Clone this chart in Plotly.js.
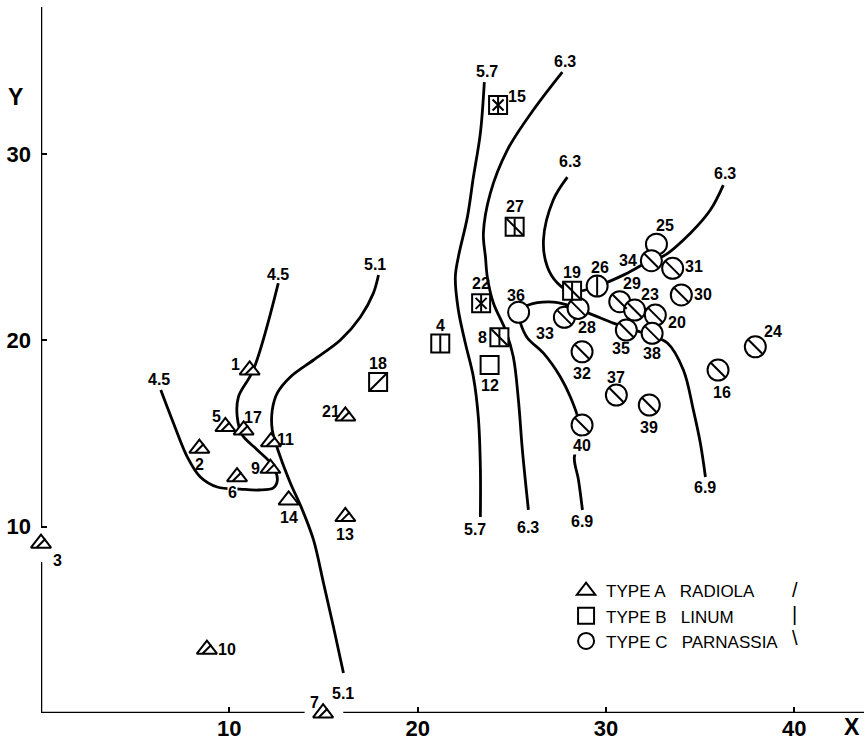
<!DOCTYPE html>
<html>
<head>
<meta charset="utf-8">
<script src="https://cdn.plot.ly/plotly-3.0.1.min.js"></script>
<style>html,body{margin:0;padding:0;background:#fff;}</style>
</head>
<body>
<div id="chart" style="width:864px;height:752px;"></div>
<script>
// ---------------- DATA ----------------
// Type A  (Radiola) – triangles
const typeA_ids = ['1','2','3','5','6','7','9','10','11','13','14','17','21'];
const typeA_x = [11.08, 8.41, 0.0, 9.79, 10.41, 14.98, 12.18, 8.81, 12.21, 16.16, 13.15, 10.76, 16.16];
const typeA_y = [18.41, 14.21, 9.11, 15.37, 12.68, 0.0, 13.13, 3.42, 14.56, 10.54, 11.43, 15.19, 15.94];
const typeA_hatch = ['/','/','/','/','/','/','/','/','/','/','','/','/'];

// Type B  (Linum) – squares
const typeB_ids = ['4','8','12','15','18','19','22','27'];
const typeB_x = [21.2, 24.34, 23.82, 24.27, 17.9, 28.2, 23.37, 25.15];
const typeB_y = [19.83, 20.17, 18.68, 32.64, 17.77, 22.67, 21.99, 26.1];
const typeB_hatch = ['|', '|\\', '', 'x|', '/', '|\\', 'x|', '|\\'];

// Type C  (Parnassia) – circles
const typeC_ids = ['16','24','25','26','29','20','23','30','31','34','33','28','32','35','38','36','37','39','40'];
const typeC_x = [35.95, 37.93, 32.68, 29.53, 30.73, 32.62, 31.52, 34.0, 33.54, 32.41, 27.79, 28.52, 28.73, 31.08, 32.45, 25.36, 30.55, 32.3, 28.73];
const typeC_y = [18.41, 19.66, 25.17, 22.92, 22.08, 21.36, 21.63, 22.44, 23.87, 24.28, 21.24, 21.72, 19.39, 20.56, 20.38, 21.51, 17.07, 16.53, 15.46];
const typeC_hatch = ['\\','\\','','|','\\','\\','\\','\\','\\','\\','\\','\\','\\','\\','\\','','\\','\\','\\'];

// Contour (iso-line) values and their traced paths
const c45_x = [12.6, 11.27, 10.48, 10.42, 10.69, 11.49, 12.28, 12.55, 12.34, 11.54, 10.58, 9.36, 8.46, 7.77, 7.03, 6.36];
const c45_y = [23.08, 18.41, 16.96, 15.89, 14.92, 14.12, 13.31, 12.51, 12.08, 11.97, 12.02, 12.13, 12.67, 13.74, 15.57, 17.34];
const c51_x = [17.92, 17.65, 16.96, 15.9, 14.47, 13.24, 12.55, 12.28, 12.28, 12.71, 13.24, 13.88, 14.47, 15.0, 15.53, 16.06];
const c51_y = [23.51, 22.54, 21.26, 20.02, 18.95, 18.04, 17.18, 16.26, 15.19, 13.74, 12.35, 10.9, 9.29, 6.98, 4.62, 2.15];
const c57_x = [23.54, 23.33, 22.96, 22.64, 22.16, 22.0, 22.16, 22.53, 22.96, 23.22, 23.33, 23.33];
const c57_y = [33.87, 31.13, 28.77, 26.62, 24.48, 23.4, 21.63, 19.86, 18.04, 15.89, 13.2, 10.52];
const c63a_x = [27.68, 26.14, 24.76, 23.86, 23.49, 23.6, 23.7, 24.02, 24.66, 25.08, 25.35, 25.56, 25.88];
const c63a_y = [34.41, 32.37, 30.22, 27.91, 25.76, 24.48, 23.4, 22.01, 20.56, 19.11, 16.8, 14.12, 10.9];
const c63b_x = [27.95, 27.2, 26.68, 26.89, 27.42, 28.16, 29.54, 31.03, 32.41, 33.05, 34.48, 35.54, 36.23];
const c63b_y = [28.77, 27.54, 25.39, 23.94, 23.08, 22.6, 22.92, 23.56, 24.32, 24.53, 25.76, 27.0, 28.34];
const c69_x = [28.75, 28.54, 28.32, 28.64, 28.54, 28.11, 27.58, 26.68, 25.83, 25.46, 25.35, 25.88, 27.2, 27.95, 29.33, 30.39, 31.83, 33.26, 34.11, 34.64, 35.01, 35.28];
const c69_y = [10.9, 12.51, 13.74, 14.65, 15.73, 16.96, 18.04, 19.32, 20.13, 20.93, 21.52, 21.9, 22.06, 21.9, 21.36, 20.93, 20.45, 19.86, 18.41, 16.26, 14.49, 12.67];

// Contour labels
const contourLabels = ['4.5','4.5','5.1','5.1','5.7','5.7','6.3','6.3','6.3','6.3','6.9','6.9'];
const contourLabel_x = [12.61, 6.28, 17.75, 16.06, 23.7, 23.07, 27.84, 25.88, 28.11, 36.34, 28.75, 35.28];
const contourLabel_y = [23.55, 17.9, 24.1, 1.07, 34.45, 9.85, 35.0, 9.95, 29.6, 28.95, 10.3, 12.1];

// Axis ticks
const xTicks = [10, 20, 30, 40];
const yTicks = [10, 20, 30];
const legendNames = ['TYPE A\u00a0\u00a0\u00a0RADIOLA', 'TYPE B\u00a0\u00a0\u00a0LINUM', 'TYPE C\u00a0\u00a0\u00a0PARNASSIA'];
const legendHatch = ['/', '|', '\\'];

// ---------------- STYLE ----------------
const FONT = 'Liberation Sans, Arial, sans-serif';
const labelOffset = {
  '1':[-14,6], '2':[0,-16], '3':[16,-17], '5':[-9,10], '6':[-5,-16], '7':[-9,11],
  '9':[-15,0], '10':[20,0], '11':[15,2], '13':[0,-18], '14':[0,-17], '17':[9,13],
  '21':[-14,5], '18':[0,18], '4':[0,18], '22':[0,20], '8':[-17,0], '12':[0,-20],
  '15':[19,8], '27':[0,20], '19':[0,18], '36':[-3,17], '26':[3,19], '33':[-19,-16],
  '28':[9,-19], '32':[0,-22], '40':[0,-20], '37':[0,18], '39':[0,-22], '35':[-5,-18],
  '38':[0,-20], '20':[22,-7], '23':[15,16], '29':[12,18], '30':[22,0], '31':[21,2],
  '34':[-23,0], '25':[9,19], '16':[4,-22], '24':[18,15]
};
const maskedLabels = ['6','40'];

const traces = [];
function curve(x, y) {
  traces.push({type:'scatter', mode:'lines', x:x, y:y, showlegend:false, hoverinfo:'skip',
    cliponaxis:false, line:{color:'black', width:2.8, shape:'spline', smoothing:1}});
}
curve(c45_x, c45_y); curve(c51_x, c51_y); curve(c57_x, c57_y);
curve(c63a_x, c63a_y); curve(c63b_x, c63b_y); curve(c69_x, c69_y);

function base(name, x, y, symbol, size, rank) {
  traces.push({type:'scatter', mode:'markers', name:name, legendrank:rank, x:x, y:y, cliponaxis:false, hoverinfo:'skip',
    marker:{symbol:symbol, size:size, color:'white', line:{color:'black', width:2}}});
}
function hatch(x, y, h, ch, symbol, size) {
  const hx = [], hy = [];
  h.forEach((v, i) => { if (v.indexOf(ch) >= 0) { hx.push(x[i]); hy.push(y[i]); } });
  if (!hx.length) return;
  traces.push({type:'scatter', mode:'markers', x:hx, y:hy, showlegend:false, cliponaxis:false, hoverinfo:'skip',
    marker:{symbol:symbol, size:size, color:'black', line:{color:'black', width:2}}});
}
// circles
base(legendNames[2], typeC_x, typeC_y, 'circle', 21, 3);
hatch(typeC_x, typeC_y, typeC_hatch, '\\', 'line-nw', 14);
hatch(typeC_x, typeC_y, typeC_hatch, '|', 'line-ns', 14);
// squares
base(legendNames[1], typeB_x, typeB_y, 'square', 18, 2);
hatch(typeB_x, typeB_y, typeB_hatch, '|', 'line-ns', 12);
hatch(typeB_x, typeB_y, typeB_hatch, '\\', 'line-nw', 16);
hatch(typeB_x, typeB_y, typeB_hatch, '/', 'line-ne', 16);
hatch(typeB_x, typeB_y, typeB_hatch, 'x', 'x-thin-open', 11);
// triangles
base(legendNames[0], typeA_x, typeA_y, 'triangle-up', 17.5, 1);
hatch(typeA_x, typeA_y, typeA_hatch, '/', 'line-ne', 9);

const annotations = [];
function pointLabels(ids, x, y) {
  ids.forEach((id, i) => {
    const off = labelOffset[id] || [0, 0];
    const masked = maskedLabels.indexOf(id) >= 0;
    annotations.push({x:x[i], y:y[i], xref:'x', yref:'y', text:id, showarrow:false,
      xanchor:'center', yanchor:'middle',
      xshift:off[0], yshift:off[1], font:{family:FONT, size:16, weight:'bold', color:'black'},
      bgcolor: masked ? 'white' : 'rgba(0,0,0,0)', borderpad:0});
  });
}
pointLabels(typeA_ids, typeA_x, typeA_y);
pointLabels(typeB_ids, typeB_x, typeB_y);
pointLabels(typeC_ids, typeC_x, typeC_y);
contourLabels.forEach((t, i) => {
  annotations.push({x:contourLabel_x[i], y:contourLabel_y[i], xref:'x', yref:'y', text:t, showarrow:false,
    xanchor:'center', yanchor:'middle',
    font:{family:FONT, size:16, weight:'bold', color:'black'}});
});
// axis letters
annotations.push({xref:'paper', yref:'paper', x:-0.0304, y:0.8725, text:'Y', showarrow:false,
  xanchor:'center', yanchor:'middle', font:{family:FONT, size:23, weight:'bold', color:'black'}});
annotations.push({xref:'paper', yref:'paper', x:0.985, y:-0.0198, text:'X', showarrow:false,
  xanchor:'center', yanchor:'middle', font:{family:FONT, size:23, weight:'bold', color:'black'}});
// legend hatch glyphs
const hatchRowsY = [0.174, 0.140, 0.106];
legendHatch.forEach((h, i) => {
  annotations.push({xref:'paper', yref:'paper', x:0.916, y:hatchRowsY[i], text:h, showarrow:false,
    xanchor:'center', yanchor:'middle', font:{family:FONT, size:20, color:'black'}});
});

// axis lines drawn with breaks around points 3 and 7
const shapes = [
  {type:'line', xref:'x', yref:'y', x0:0, x1:0, y0:9.98, y1:37.9, line:{color:'black', width:2.5}},
  {type:'line', xref:'x', yref:'y', x0:0, x1:0, y0:0, y1:8.1, line:{color:'black', width:2.5}},
  {type:'line', xref:'x', yref:'y', x0:0, x1:14.0, y0:0, y1:0, line:{color:'black', width:2.5}},
  {type:'line', xref:'x', yref:'y', x0:16.05, x1:43.7, y0:0, y1:0, line:{color:'black', width:2.5}}
];

const axisCommon = {showline:false, zeroline:false, showgrid:false, ticks:'inside', ticklen:6, tickwidth:2,
  tickcolor:'black', tickfont:{family:FONT, size:22, weight:'bold', color:'black'}, fixedrange:true};

const layout = {
  width:864, height:752,
  margin:{l:41, r:0, t:7, b:39, pad:0},
  paper_bgcolor:'white', plot_bgcolor:'white',
  xaxis:Object.assign({}, axisCommon, {range:[0, 43.7], tickvals:xTicks, ticktext:xTicks.map(String), ticklabelstandoff:0}),
  yaxis:Object.assign({}, axisCommon, {range:[0, 37.9], tickvals:yTicks, ticktext:yTicks.map(String), ticklabelstandoff:9}),
  showlegend:true,
  legend:{x:0.638, y:0.198, xanchor:'left', yanchor:'top', bgcolor:'rgba(0,0,0,0)',
    font:{family:FONT, size:17, color:'black'}, itemwidth:30, traceorder:'normal'},
  shapes:shapes,
  annotations:annotations
};

Plotly.newPlot('chart', traces, layout, {staticPlot:true, displayModeBar:false});
</script>
</body>
</html>
